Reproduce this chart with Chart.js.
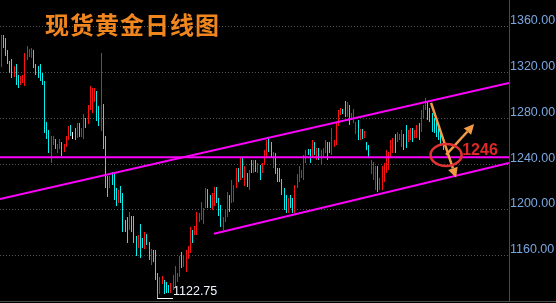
<!DOCTYPE html>
<html>
<head>
<meta charset="utf-8">
<script src="https://cdn.jsdelivr.net/npm/chart.js@4.4.1/dist/chart.umd.min.js"></script>
<style>
  html, body { margin: 0; padding: 0; background: #000; }
  #wrap { position: relative; width: 556px; height: 303px; overflow: hidden; }
  #title {
    position: absolute; left: 45px; top: 11px;
    font: bold 24px "Noto Sans CJK SC", sans-serif; line-height: 26px;
    letter-spacing: 1px; color: #f2861e; white-space: nowrap;
  }
</style>
</head>
<body>
<div id="wrap">
  <canvas id="myChart" width="556" height="303"></canvas>
  <div id="title">现货黄金日线图</div>
</div>
<script>
'use strict';
// daily candles (oldest first)
let opens = [1330,1352,1346,1338,1329,1328,1318,1324,1316,1311,1312,1312,1333,1335,1335,1338,1327,1324,1326,1318,
  1311,1275,1268,1250,1258,1261,1252,1255,1258,1252,1257,1263,1273,1265,1270,1264,1274,1266,1267,1279,
  1277,1290,1287,1296,1302,1289,1273,1276,1265,1229,1221,1232,1228,1216,1208,1215,1211,1189,1190,1184,
  1194,1193,1175,1169,1185,1174,1168,1177,1170,1154,1163,1162,1142,1128,1137,1138,1135,1133,1129,1131,
  1134,1138,1143,1161,1152,1148,1159,1164,1181,1179,1181,1191,1193,1190,1204,1217,1211,1202,1206,1219,
  1208,1201,1184,1191,1197,1211,1208,1209,1221,1235,1228,1243,1224,1231,1219,1242,1234,1242,1234,1238,
  1233,1240,1248,1261,1257,1238,1248,1235,1233,1225,1216,1211,1199,1211,1209,1199,1220,1226,1229,1229,
  1243,1252,1251,1247,1257,1245,1252,1242,1247,1251,1257,1258,1250,1256,1259,1274,1284,1288,1292,1283,
  1290,1279,1278,1267,1276,1263,1269,1264,1258,1255,1232,1228,1220,1235,1219,1220,1225,1234,1237,1248,
  1251,1263,1260,1262,1257,1265,1272,1260,1262,1270,1263,1264,1274,1270,1282,1289,1293,1287,1282,1278,
  1275,1270,1266,1261];
let highs = [1353,1353,1350,1340,1330,1332,1326,1328,1318,1317,1318,1337,1343,1341,1342,1340,1328,1326,1328,1320,
  1313,1277,1270,1265,1265,1262,1258,1262,1259,1258,1265,1273,1274,1268,1272,1276,1276,1272,1284,1280,
  1292,1308,1307,1307,1304,1291,1337,1293,1265,1230,1230,1233,1231,1219,1217,1221,1215,1191,1194,1198,
  1195,1195,1177,1178,1188,1175,1181,1179,1172,1166,1165,1165,1145,1141,1142,1139,1137,1134,1136,1143,
  1151,1145,1160,1163,1160,1165,1168,1185,1182,1186,1198,1197,1207,1202,1219,1218,1213,1215,1220,1220,
  1210,1204,1194,1201,1216,1213,1226,1222,1237,1237,1245,1245,1238,1232,1235,1244,1244,1244,1241,1239,
  1241,1252,1261,1263,1259,1251,1250,1237,1237,1227,1219,1213,1210,1213,1210,1222,1231,1238,1235,1248,
  1252,1253,1253,1261,1259,1254,1254,1252,1254,1261,1259,1259,1272,1261,1276,1287,1289,1288,1295,1294,
  1292,1285,1288,1277,1279,1271,1271,1269,1259,1257,1244,1242,1238,1238,1228,1238,1241,1252,1251,1261,
  1263,1266,1268,1266,1270,1266,1274,1270,1272,1272,1270,1274,1276,1287,1292,1298,1294,1289,1285,1280,
  1277,1273,1268,1264];
let lows = [1325,1342,1335,1328,1320,1315,1316,1309,1307,1309,1311,1308,1331,1334,1333,1324,1318,1315,1313,1309,
  1267,1262,1250,1241,1257,1253,1250,1253,1247,1251,1255,1261,1265,1262,1261,1263,1264,1264,1262,1272,
  1275,1287,1285,1294,1278,1273,1269,1253,1219,1211,1219,1222,1209,1203,1206,1206,1181,1181,1171,1182,
  1181,1171,1160,1167,1158,1167,1166,1169,1156,1152,1154,1139,1122.75,1126,1135,1126,1127,1127,1127,1130,
  1132,1137,1141,1149,1150,1146,1157,1162,1171,1178,1178,1189,1191,1188,1202,1202,1202,1200,1203,1206,
  1195,1185,1182,1189,1194,1198,1206,1207,1219,1224,1226,1228,1221,1220,1217,1232,1232,1233,1232,1226,
  1232,1239,1246,1251,1246,1237,1231,1224,1224,1213,1200,1197,1197,1202,1197,1197,1219,1224,1228,1226,
  1241,1248,1241,1246,1248,1244,1244,1240,1245,1250,1244,1250,1248,1255,1257,1273,1283,1284,1281,1281,
  1274,1279,1276,1266,1261,1261,1262,1263,1252,1246,1231,1226,1217,1216,1217,1217,1224,1232,1235,1246,
  1250,1250,1259,1261,1255,1252,1254,1259,1261,1259,1263,1263,1261,1268,1280,1287,1279,1277,1268,1267,
  1264,1261,1257,1252];
let closes = [1348,1344,1338,1330,1322,1318,1324,1312,1309,1315,1317,1334,1341,1339,1341,1327,1320,1317,1315,1311,
  1269,1264,1252,1262,1264,1255,1257,1260,1249,1257,1263,1271,1266,1265,1263,1274,1266,1271,1281,1273,
  1290,1305,1304,1306,1280,1276,1276,1256,1224,1214,1228,1223,1211,1206,1215,1208,1184,1183,1174,1196,
  1184,1174,1163,1176,1161,1169,1178,1171,1158,1163,1156,1142,1127,1139,1141,1129,1129,1129,1134,1141,
  1149,1143,1157,1151,1159,1163,1167,1182,1173,1185,1196,1196,1205,1200,1217,1205,1204,1212,1218,1208,
  1197,1188,1192,1199,1213,1200,1224,1220,1234,1225,1242,1230,1235,1222,1233,1234,1242,1235,1239,1228,
  1240,1251,1259,1253,1248,1249,1232,1225,1226,1215,1202,1199,1208,1203,1199,1219,1229,1236,1234,1246,
  1250,1249,1243,1259,1250,1252,1245,1249,1253,1259,1246,1251,1269,1260,1274,1286,1288,1285,1283,1291,
  1277,1284,1286,1275,1263,1269,1264,1268,1253,1248,1241,1240,1235,1218,1226,1235,1239,1250,1249,1259,
  1261,1252,1267,1266,1268,1254,1256,1268,1270,1261,1268,1273,1263,1285,1290,1295,1281,1279,1270,1269,
  1266,1263,1259,1254];

let yTicks = [1160, 1200, 1240, 1280, 1320, 1360];
let yearStart = 84;                 // first candle of the new year, gets the vertical grid line
let keyLevel = 1246;
let upperChannel = [[-0.46, 1209.5], [233.3, 1311]];
let lowerChannel = [[97.8, 1179.1], [233.3, 1241]];
let keyLine = [[-0.46, keyLevel], [233.3, keyLevel]];
let arrowDown = [[197.5, 1293.5], [209, 1228]];
let arrowUp = [[204.4, 1248], [217.3, 1275]];
let ringAt = [204.4, 1248];
let labelAt = 211.8;

let upColor = '#ff1010';
let downColor = '#00f0f0';
let flatColor = '#ffffff';

function candleColor(ctx) {
    let i = ctx.dataIndex;
    if (closes[i] > opens[i]) return upColor;
    if (closes[i] < opens[i]) return downColor;
    return flatColor;
}

function toPoints(arr) {
    return arr.map(p => ({x: p[0], y: p[1]}));
}

function drawArrow(ctx, x1, y1, x2, y2) {
    let ang = Math.atan2(y2 - y1, x2 - x1);
    let head = 10, half = 5;
    let bx = x2 - head * Math.cos(ang), by = y2 - head * Math.sin(ang);
    ctx.beginPath();
    ctx.moveTo(x1, y1);
    ctx.lineTo(bx, by);
    ctx.stroke();
    ctx.beginPath();
    ctx.moveTo(x2, y2);
    ctx.lineTo(bx + half * Math.sin(ang), by - half * Math.cos(ang));
    ctx.lineTo(bx - half * Math.sin(ang), by + half * Math.cos(ang));
    ctx.closePath();
    ctx.fill();
}

// snap the 1px candles onto whole pixels so they stay sharp
let crispBars = {
    id: 'crispBars',
    beforeDatasetsDraw(chart) {
        chart.data.datasets.forEach((ds, k) => {
            if (ds.type === 'line') return;
            chart.getDatasetMeta(k).data.forEach(el => {
                el.x = Math.floor(el.x) + 0.5;
                el.y = Math.round(el.y);
                el.base = Math.round(el.base);
            });
        });
    }
};

let marks = {
    id: 'marks',
    afterDraw(chart) {
        let ctx = chart.ctx;
        let x = chart.scales.x, y = chart.scales.y;
        ctx.save();

        // full width bottom rule
        ctx.strokeStyle = '#4a4a4a';
        ctx.lineWidth = 1;
        ctx.beginPath();
        ctx.moveTo(0, chart.chartArea.bottom + 0.5);
        ctx.lineTo(chart.width, chart.chartArea.bottom + 0.5);
        ctx.stroke();

        // lowest low
        let li = 0;
        lows.forEach((v, i) => { if (v < lows[li]) li = i; });
        let lx = Math.floor(x.getPixelForValue(li));
        let ly = Math.floor(y.getPixelForValue(lows[li]));
        ctx.strokeStyle = '#ffffff';
        ctx.beginPath();
        ctx.moveTo(lx, ly + 0.5);
        ctx.lineTo(lx + 16, ly + 0.5);
        ctx.stroke();
        ctx.fillStyle = '#eef4ff';
        ctx.font = '12.5px "Liberation Sans", Arial, sans-serif';
        ctx.textBaseline = 'alphabetic';
        ctx.fillText(lows[li].toFixed(2), lx + 16, ly - 3);

        // arrows
        ctx.strokeStyle = '#f29b45';
        ctx.fillStyle = '#f29b45';
        ctx.lineWidth = 2.5;
        [arrowDown, arrowUp].forEach(a => {
            drawArrow(ctx, x.getPixelForValue(a[0][0]), y.getPixelForValue(a[0][1]),
                x.getPixelForValue(a[1][0]), y.getPixelForValue(a[1][1]));
        });

        // ring round the key level
        ctx.strokeStyle = '#e23333';
        ctx.lineWidth = 2.5;
        ctx.beginPath();
        ctx.ellipse(x.getPixelForValue(ringAt[0]), y.getPixelForValue(ringAt[1]), 15.5, 11, 0, 0, Math.PI * 2);
        ctx.stroke();

        ctx.fillStyle = '#e02828';
        ctx.font = 'bold 16px "Liberation Sans Narrow", "Liberation Sans", Arial, sans-serif';
        ctx.fillText(String(keyLevel), x.getPixelForValue(labelAt), y.getPixelForValue(keyLevel) - 2);
        ctx.restore();
    }
};

let ctx = document.getElementById('myChart');
let myChart = new Chart(ctx, {
    type: 'bar',
    data: {
        datasets: [
            {type: 'line', data: toPoints(upperChannel), borderColor: '#ff00ff', borderWidth: 2, pointRadius: 0, order: 0},
            {type: 'line', data: toPoints(lowerChannel), borderColor: '#ff00ff', borderWidth: 2, pointRadius: 0, order: 0},
            {type: 'line', data: toPoints(keyLine), borderColor: '#ff00ff', borderWidth: 2, pointRadius: 0, order: 0},
            {
                label: 'wick',
                data: lows.map((l, i) => ({x: i, y: [l, highs[i]]})),
                backgroundColor: candleColor,
                barThickness: 1, grouped: false, inflateAmount: 0, borderWidth: 0, order: 2
            },
            {
                label: 'body',
                data: opens.map((o, i) => ({x: i, y: [o, closes[i]]})),
                backgroundColor: candleColor,
                barThickness: 1, grouped: false, inflateAmount: 0, borderWidth: 0, order: 1
            }
        ]
    },
    options: {
        responsive: false,
        animation: false,
        layout: {padding: 0},
        plugins: {legend: {display: false}, tooltip: {enabled: false}},
        scales: {
            x: {
                type: 'linear', min: -0.46, max: 233.3, offset: false,
                afterBuildTicks: s => { s.ticks = [{value: yearStart}]; },
                afterFit: s => { s.height = 2; s.paddingLeft = 0; s.paddingRight = 0; },
                ticks: {display: false},
                grid: {color: '#555', drawTicks: false},
                border: {color: '#4a4a4a', dash: [1, 2]}
            },
            y: {
                position: 'right', min: 1120.2, max: 1383.6,
                afterBuildTicks: s => { s.ticks = yTicks.map(v => ({value: v})); },
                afterFit: s => { s.width = 47; s.paddingTop = 0; s.paddingBottom = 0; },
                ticks: {
                    color: '#7aa6e0', padding: 1, labelOffset: -6,
                    font: {family: '"Liberation Sans", Arial, sans-serif', size: 12.5},
                    callback: v => v.toFixed(2)
                },
                grid: {color: '#555', drawTicks: false},
                border: {color: '#4a4a4a', dash: [1, 2]}
            }
        }
    },
    plugins: [crispBars, marks]
});
</script>
</body>
</html>
